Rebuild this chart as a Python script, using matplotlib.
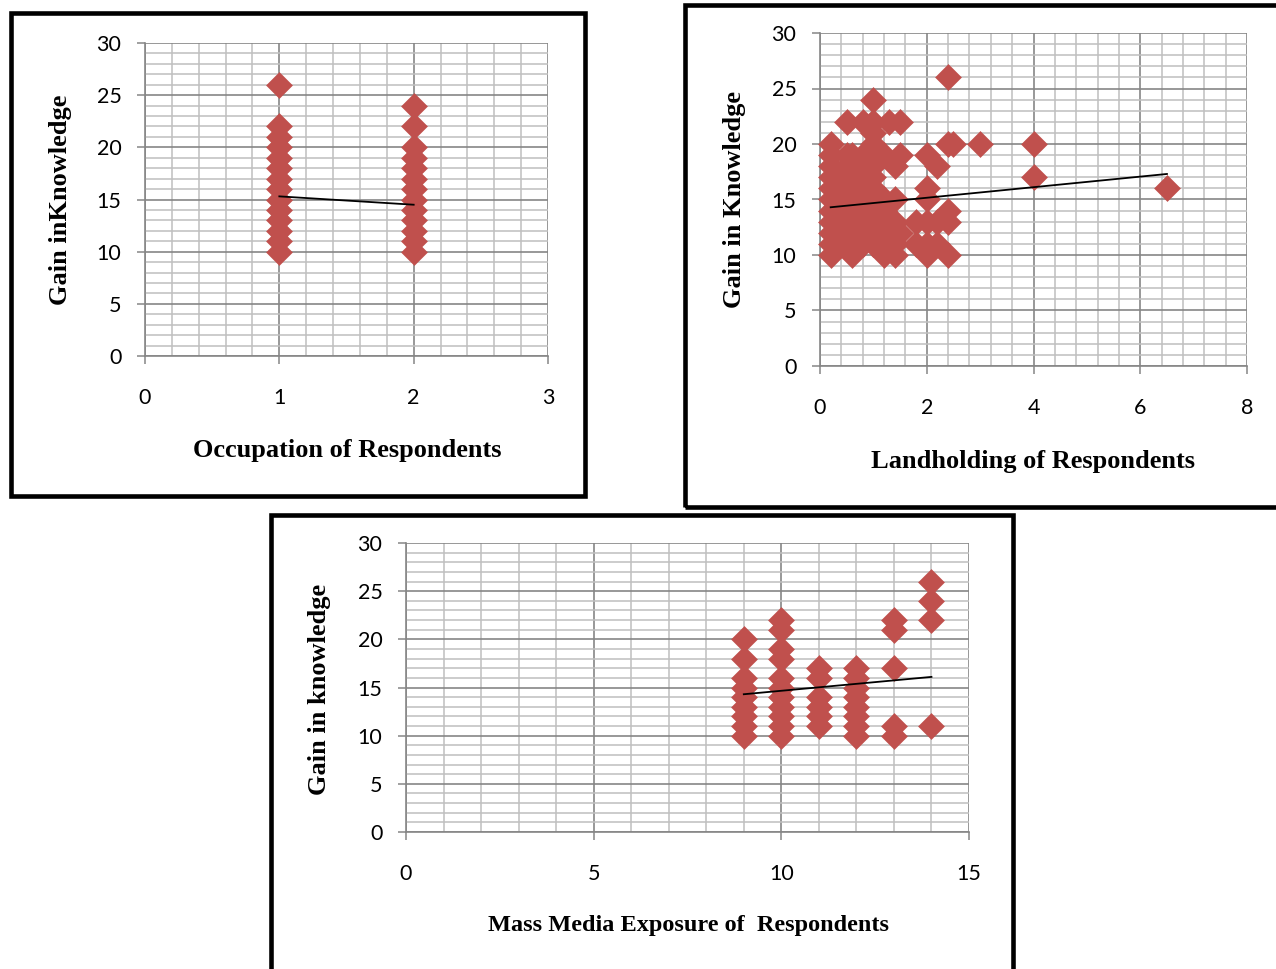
import matplotlib
matplotlib.use("Agg")
import matplotlib.pyplot as plt
from matplotlib.ticker import MultipleLocator
from matplotlib.patches import Rectangle

# ---------------- data ----------------
occ_x = [1, 1, 1, 1, 1, 1, 1, 1, 1, 1, 1, 1, 1, 1,
         2, 2, 2, 2, 2, 2, 2, 2, 2, 2, 2, 2, 2]
occ_gain = [10, 11, 12, 13, 14, 15, 16, 17, 18, 19, 20, 21, 22, 26,
            10, 11, 12, 13, 14, 15, 16, 17, 18, 19, 20, 22, 24]
occ_trend_x = [1, 2]
occ_trend_y = [15.3, 14.5]

land_x = [2.4,
          1.0,
          0.5, 0.8, 1.0, 1.3, 1.5,
          1.0,
          0.2, 1.0, 2.4, 2.5, 3.0, 4.0,
          0.2, 0.5, 0.6, 0.8, 1.0, 1.2, 1.5, 2.0,
          0.2, 0.5, 0.6, 0.8, 1.0, 1.4, 2.2,
          0.2, 0.4, 0.5, 0.6, 0.8, 1.0, 4.0,
          0.2, 0.4, 0.5, 0.6, 0.8, 1.0, 2.0, 6.5,
          0.2, 0.4, 0.6, 0.8, 1.0, 1.2, 1.4, 2.0,
          0.2, 0.4, 0.5, 0.6, 0.8, 1.0, 1.2, 2.4,
          0.2, 0.4, 0.6, 0.8, 1.0, 1.2, 1.4, 1.8, 2.0, 2.2, 2.4,
          0.2, 0.4, 0.5, 0.6, 0.8, 1.0, 1.2, 1.4, 1.5,
          0.2, 0.4, 0.6, 0.8, 1.0, 1.2, 1.4, 1.8, 2.0, 2.2,
          0.2, 0.6, 1.2, 1.4, 2.0, 2.4]
land_gain = [26,
             24,
             22, 22, 22, 22, 22,
             21,
             20, 20, 20, 20, 20, 20,
             19, 19, 19, 19, 19, 19, 19, 19,
             18, 18, 18, 18, 18, 18, 18,
             17, 17, 17, 17, 17, 17, 17,
             16, 16, 16, 16, 16, 16, 16, 16,
             15, 15, 15, 15, 15, 15, 15, 15,
             14, 14, 14, 14, 14, 14, 14, 14,
             13, 13, 13, 13, 13, 13, 13, 13, 13, 13, 13,
             12, 12, 12, 12, 12, 12, 12, 12, 12,
             11, 11, 11, 11, 11, 11, 11, 11, 11, 11,
             10, 10, 10, 10, 10, 10]
land_trend_x = [0.2, 6.5]
land_trend_y = [14.3, 17.3]

media_x = [9, 9, 9, 9, 9, 9, 9, 9, 9,
           10, 10, 10, 10, 10, 10, 10, 10, 10, 10, 10,
           11, 11, 11, 11, 11, 11,
           12, 12, 12, 12, 12, 12, 12, 12,
           13, 13, 13, 13, 13,
           14, 14, 14, 14]
media_gain = [10, 11, 12, 13, 14, 15, 16, 18, 20,
              10, 11, 12, 13, 14, 15, 16, 18, 19, 21, 22,
              11, 12, 13, 14, 16, 17,
              10, 11, 12, 13, 14, 15, 16, 17,
              10, 11, 17, 21, 22,
              11, 22, 24, 26]
media_trend_x = [9, 14]
media_trend_y = [14.3, 16.1]

y_ticks = [0, 5, 10, 15, 20, 25, 30]

# ---------------- style ----------------
W, H = 1276, 969
DPI = 100
RED = "#C0504D"
MAJ = "#868686"
MIN = "#BFBFBF"
TICK_FONT = "Lato"
LABEL_FONT = "Liberation Serif"

fig = plt.figure(figsize=(W / DPI, H / DPI), dpi=DPI)
fig.patch.set_facecolor("white")


def px_axes(left, top, right, bottom):
    return fig.add_axes([left / W, 1 - bottom / H, (right - left) / W, (bottom - top) / H])


def setup(ax, xmax, xmajor, xminor):
    ax.set_xlim(0, xmax)
    ax.set_ylim(0, 30)
    ax.xaxis.set_major_locator(MultipleLocator(xmajor))
    ax.xaxis.set_minor_locator(MultipleLocator(xminor))
    ax.set_yticks(y_ticks)
    ax.yaxis.set_minor_locator(MultipleLocator(1))
    ax.set_axisbelow(True)
    ax.grid(which="minor", color=MIN, lw=1.1)
    ax.grid(which="major", color=MAJ, lw=1.2)
    for s in ("top", "right"):
        ax.spines[s].set_visible(False)
    for s in ("left", "bottom"):
        ax.spines[s].set_color(MAJ)
        ax.spines[s].set_linewidth(1.2)
    ax.tick_params(which="major", direction="out", length=6, width=1.1, color=MAJ,
                   labelsize=15.5, labelcolor="black")
    ax.tick_params(axis="y", which="major", pad=11)
    ax.tick_params(axis="x", which="major", pad=17)
    ax.tick_params(which="minor", length=0)
    for lab in ax.get_xticklabels() + ax.get_yticklabels():
        lab.set_fontfamily(TICK_FONT)
    ax.set_facecolor("white")


def draw(ax, xs, ys, tx, ty):
    ax.scatter(xs, ys, marker="D", s=175, color=RED, edgecolors=RED, linewidths=0.4,
               zorder=3, clip_on=False)
    ax.plot(tx, ty, color="black", lw=1.3, zorder=4)


# panel 1
ax1 = px_axes(145, 43, 548, 356)
setup(ax1, 3, 1, 0.2)
draw(ax1, occ_x, occ_gain, occ_trend_x, occ_trend_y)

# panel 2
ax2 = px_axes(820, 33, 1247, 366)
setup(ax2, 8, 2, 0.4)
draw(ax2, land_x, land_gain, land_trend_x, land_trend_y)

# panel 3
ax3 = px_axes(406, 543, 969, 832)
setup(ax3, 15, 5, 1)
draw(ax3, media_x, media_gain, media_trend_x, media_trend_y)


def ftext(x, y, s, rot=0, size=19):
    fig.text(x / W, 1 - y / H, s, ha="center", va="center", rotation=rot,
             fontfamily=LABEL_FONT, fontweight="bold", fontsize=size)


ftext(347, 451, "Occupation of Respondents")
ftext(61, 200, "Gain inKnowledge", rot=90)
ftext(1033, 462, "Landholding of Respondents")
ftext(735, 199, "Gain in Knowledge", rot=90)
ftext(688, 926, "Mass Media Exposure of  Respondents", size=17.5)
ftext(320, 689, "Gain in knowledge", rot=90)


def frame(left, top, right, bottom):
    fig.patches.append(Rectangle((left / W, 1 - bottom / H), (right - left) / W,
                                 (bottom - top) / H, transform=fig.transFigure,
                                 fill=False, edgecolor="black", lw=3.3, zorder=10))


frame(11, 13.5, 585, 495.5)
frame(684.5, 5, 1285, 507)
frame(271, 515.5, 1012.5, 985)

fig.savefig("out.png", dpi=DPI, facecolor="white")
